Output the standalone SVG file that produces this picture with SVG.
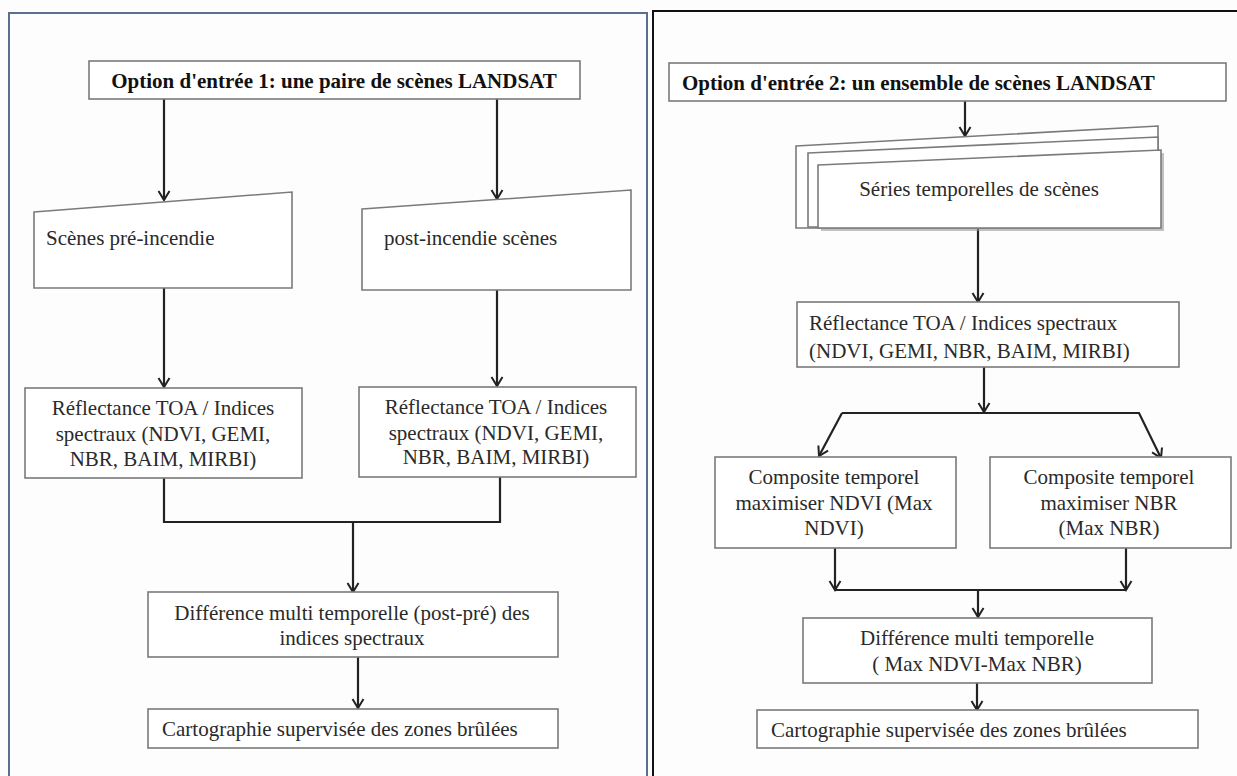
<svg xmlns="http://www.w3.org/2000/svg" width="1237" height="776" viewBox="0 0 1237 776">
<defs>
<style>
.box{fill:#ffffff;stroke:#7a7a7a;stroke-width:1.6}
.t{font-family:"Liberation Serif","Times New Roman",serif;font-size:21px;fill:#2a2a2a}
.c{text-anchor:middle}
.b{font-weight:bold;fill:#111}
.con{fill:none;stroke:#222;stroke-width:2.2}
</style>
<marker id="ah" viewBox="-11 -7 13 14" markerWidth="13" markerHeight="14" refX="0" refY="0" orient="auto" markerUnits="userSpaceOnUse">
<path d="M-9,-5.5 L0,0 L-9,5.5" fill="none" stroke="#222" stroke-width="2"/>
</marker>
</defs>
<rect x="0" y="0" width="1237" height="776" fill="#fdfdfd"/>
<g id="panel-left"><rect x="9" y="13" width="638" height="790" fill="#fdfdfd" stroke="#5b708d" stroke-width="2"/></g>
<g id="panel-right"><rect x="653" y="11" width="600" height="790" fill="#fdfdfd" stroke="#111" stroke-width="2"/></g>

<g id="connectors">
<path class="con" d="M164,99 L164,200" marker-end="url(#ah)"/>
<path class="con" d="M497,99 L497,199" marker-end="url(#ah)"/>
<path class="con" d="M164,288 L164,387" marker-end="url(#ah)"/>
<path class="con" d="M497,290 L497,386" marker-end="url(#ah)"/>
<path class="con" d="M164,478 L164,522 L500,522 L500,477"/>
<path class="con" d="M353,522 L353,592" marker-end="url(#ah)"/>
<path class="con" d="M358,657 L358,708" marker-end="url(#ah)"/>
<path class="con" d="M965,101 L965,136" marker-end="url(#ah)"/>
<path class="con" d="M978,228 L978,302" marker-end="url(#ah)"/>
<path class="con" d="M984,367 L984,412" marker-end="url(#ah)"/>
<path class="con" d="M842,413 L819,456" marker-end="url(#ah)"/>
<path class="con" d="M842,413 L1139,413 L1161,458" marker-end="url(#ah)"/>
<path class="con" d="M835,548 L835,590" marker-end="url(#ah)"/>
<path class="con" d="M1126,548 L1126,590" marker-end="url(#ah)"/>
<path class="con" d="M835,590 L1126,590"/>
<path class="con" d="M978,590 L978,617" marker-end="url(#ah)"/>
<path class="con" d="M977,683 L977,710" marker-end="url(#ah)"/>
</g>

<g id="n-input1">
<rect class="box" x="89" y="61" width="491" height="38"/>
<text class="t b c" x="334" y="88">Option d'entrée 1: une paire de scènes LANDSAT</text>
</g>
<g id="n-pre">
<polygon class="box" points="34,212 292,192 292,288 34,288"/>
<text class="t" x="46" y="245">Scènes pré-incendie</text>
</g>
<g id="n-post">
<polygon class="box" points="362,209 631,190 631,290 362,290"/>
<text class="t" x="384" y="245">post-incendie scènes</text>
</g>
<g id="n-refl-left">
<rect class="box" x="25" y="388" width="277" height="90"/>
<text class="t c" x="163" y="415">Réflectance TOA / Indices</text>
<text class="t c" x="163" y="441">spectraux (NDVI, GEMI,</text>
<text class="t c" x="163" y="466">NBR, BAIM, MIRBI)</text>
</g>
<g id="n-refl-right">
<rect class="box" x="359" y="387" width="277" height="90"/>
<text class="t c" x="496" y="414">Réflectance TOA / Indices</text>
<text class="t c" x="496" y="440">spectraux (NDVI, GEMI,</text>
<text class="t c" x="496" y="464">NBR, BAIM, MIRBI)</text>
</g>
<g id="n-diff-left">
<rect class="box" x="148" y="592" width="410" height="65"/>
<text class="t c" x="352" y="620">Différence multi temporelle (post-pré) des</text>
<text class="t c" x="352" y="645">indices spectraux</text>
</g>
<g id="n-carto-left">
<rect class="box" x="148" y="709" width="410" height="39"/>
<text class="t" x="162" y="736">Cartographie supervisée des zones brûlées</text>
</g>

<g id="n-input2">
<rect class="box" x="669" y="63" width="557" height="38"/>
<text class="t b" x="682" y="90">Option d'entrée 2: un ensemble de scènes LANDSAT</text>
</g>
<g id="n-series">
<polygon class="box" points="796,146 1158,126 1158,228 796,228"/>
<polygon class="box" points="808,153 1158,137 1158,227 808,227"/>
<polygon points="821,168 1164,153 1164,231 821,231" fill="#9a9a9a" opacity="0.6"/>
<polygon class="box" points="818,165 1161,150 1161,228 818,228"/>
<text class="t c" x="979" y="196">Séries temporelles de scènes</text>
</g>
<g id="n-refl2">
<rect class="box" x="797" y="302" width="382" height="65"/>
<text class="t" x="809" y="330">Réflectance TOA / Indices spectraux</text>
<text class="t" x="809" y="358">(NDVI, GEMI, NBR, BAIM, MIRBI)</text>
</g>
<g id="n-comp-ndvi">
<rect class="box" x="715" y="457" width="241" height="91"/>
<text class="t c" x="834" y="484">Composite temporel</text>
<text class="t c" x="834" y="510">maximiser NDVI (Max</text>
<text class="t c" x="834" y="535">NDVI)</text>
</g>
<g id="n-comp-nbr">
<rect class="box" x="990" y="457" width="241" height="91"/>
<text class="t c" x="1109" y="484">Composite temporel</text>
<text class="t c" x="1109" y="510">maximiser NBR</text>
<text class="t c" x="1109" y="535">(Max NBR)</text>
</g>
<g id="n-diff2">
<rect class="box" x="803" y="618" width="349" height="65"/>
<text class="t c" x="977" y="645">Différence multi temporelle</text>
<text class="t c" x="977" y="671">( Max NDVI-Max NBR)</text>
</g>
<g id="n-carto2">
<rect class="box" x="757" y="710" width="441" height="38"/>
<text class="t" x="771" y="737">Cartographie supervisée des zones brûlées</text>
</g>
</svg>
